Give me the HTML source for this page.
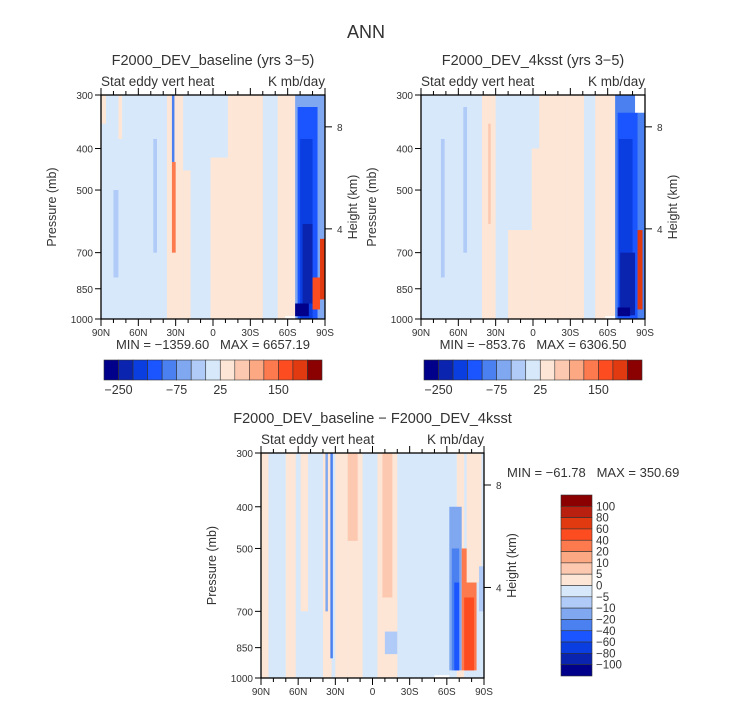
<!DOCTYPE html>
<html><head><meta charset="utf-8"><style>
body{margin:0;background:#fff}
svg{display:block}
text{font-family:"Liberation Sans",sans-serif;fill:#333;white-space:pre}
</style></head><body>
<svg id="s" width="733" height="702" viewBox="0 0 733 702" xmlns="http://www.w3.org/2000/svg">
<text x="366" y="38" font-size="18" text-anchor="middle" fill="#555">ANN</text>
</svg>
<script>
const palette=["#00008b","#0a24b0","#0a3ee0","#1a55ff","#4a80f0","#80a8f0","#b0cbf8","#d7e8fb","#fde6d5","#fcc8b0","#fca882","#fc7a4e","#fc4c20","#e23a10","#b92010","#8b0000"];
const latTicks=[90,60,30,0,-30,-60,-90];
const latLabels=["90N","60N","30N","0","30S","60S","90S"];
const presTicks=[300,400,500,700,850,1000];
const kmTicks=[8,4];
const kmPres=[356,616];
// bands: [latNorth, latSouth, pTop, pBottom, colorLevel]
const bands1=[[90,86,300,350,8],[76,73,300,380,8],[80,76,500,800,6],[48,45,380,700,6],[37,24,300,1000,8],[24,18,450,1000,8],[33,31,300,430,4],[33,30,430,700,11],[2,-40,300,1000,8],[5,-12,300,420,7],[-52,-66,300,1000,8],[-66,-90,300,1000,5],[-68,-84,320,1000,3],[-70,-80,380,1000,2],[-72,-80,600,920,1],[-66,-77,920,985,0],[-86,-90,650,900,13],[-80,-86,800,950,12],[-58,-66,985,1000,-1]];
const bands2=[[41,30,300,1000,8],[20,1,620,1000,8],[36,34,350,600,9],[74,71,380,800,6],[56,53,320,700,6],[1,-26,400,1000,8],[-5,-26,300,400,8],[-26,-41,300,1000,8],[-50,-66,300,1000,8],[-66,-90,300,1000,4],[-68,-84,330,1000,3],[-69,-80,380,980,2],[-70,-82,700,980,1],[-68,-78,940,985,0],[-84,-88,620,950,13],[-82,-90,300,330,-1],[-58,-66,985,1000,-1]];
const bands3=[[90,84,300,1000,8],[70,62,300,1000,8],[58,52,300,700,8],[40,33,300,1000,8],[30,20,300,1000,8],[20,8,300,1000,8],[20,12,300,480,9],[-4,-20,300,1000,8],[-8,-16,300,650,9],[-68,-74,300,1000,8],[34,32,300,900,4],[38,36,300,700,5],[-10,-20,780,880,6],[-62,-72,400,960,5],[-64,-70,500,960,4],[-66,-70,600,960,3],[-72,-84,500,960,11],[-74,-82,650,960,12],[-76,-88,300,600,8],[-86,-90,550,700,6],[-50,-62,985,1000,-1]];
const cbLabels1=["-250","-75","25","150"];
const cbLabelIdx=[1,5,8,12];
const vcbLabels=["100","80","60","40","20","10","5","0","-5","-10","-20","-40","-60","-80","-100"];

const svg=document.getElementById('s');
const NS="http://www.w3.org/2000/svg";
function mk(tag,attrs,parent){const e=document.createElementNS(NS,tag);for(const k in attrs)e.setAttribute(k,attrs[k]);(parent||svg).appendChild(e);return e;}
function txt(x,y,s,size,anchor,parent){const t=mk('text',{x:x,y:y,'font-size':size,'text-anchor':anchor||'middle'},parent);t.textContent=s;return t;}

function panel(name,L,T,W,H,bands,title,minmax,mmPos){
  const g=mk('g',{});
  
  
  const xs=lat=>L+(90-lat)/180*W;
  const ys=p=>T+(Math.log(p)-Math.log(300))/(Math.log(1000)-Math.log(300))*H;
  const bg=mk('rect',{x:L,y:T,width:W,height:H,fill:palette[7]},g);
  
  
  bands.forEach(b=>{
    const r=mk('rect',{x:xs(b[0]),y:ys(b[2]),width:xs(b[1])-xs(b[0]),height:ys(b[3])-ys(b[2]),fill:b[4]<0?'#fff':palette[b[4]]},g);
    
    
  });
  mk('rect',{x:L,y:T,width:W,height:H,fill:'none',stroke:'#000','stroke-width':1.3},g);
  for(let i=0;i<=18;i++){const x=L+i*W/18;const len=(i%3==0)?7:4;
    mk('line',{x1:x,y1:T+H,x2:x,y2:T+H+len,stroke:'#000'},g);
    mk('line',{x1:x,y1:T,x2:x,y2:T-len,stroke:'#000'},g);}
  latTicks.forEach((v,i)=>{const t=txt(xs(v),T+H+17,latLabels[i],10,'middle',g);
    });
  presTicks.forEach(p=>{mk('line',{x1:L,y1:ys(p),x2:L-6,y2:ys(p),stroke:'#000'},g);
    const t=txt(L-8,ys(p)+4,String(p),10,'end',g);
    });
  kmTicks.forEach((k,i)=>{const y=ys(kmPres[i]);mk('line',{x1:L+W,y1:y,x2:L+W+7,y2:y,stroke:'#000'},g);
    const t=txt(L+W+12,y+4,String(k),10,'start',g);
    });
  const yt=txt(0,0,'Pressure (mb)',12.5,'middle',g);
  yt.setAttribute('transform',`translate(${L-45},${T+H/2}) rotate(-90)`);
  
  const ht=txt(0,0,'Height (km)',12.5,'middle',g);
  ht.setAttribute('transform',`translate(${L+W+32},${T+H/2}) rotate(-90)`);
  
  const st=txt(L,T-9,'Stat eddy vert heat',13.5,'start',g);
  
  const un=txt(L+W,T-9,'K mb/day',13.5,'end',g);
  
  const tt=txt(L+W/2,T-30,title,14.5,'middle',g);
  
  const mm=txt(mmPos[0],mmPos[1],minmax,13,mmPos[2],g);
  
}

function hbar(name,L,T,W,H){
  const g=mk('g',{});
  
  
  const cols=[0,1,2,3,4,5,6,7,8,9,10,11,12,13,15];
  const bw=W/15;
  cols.forEach((c,i)=>{const r=mk('rect',{x:L+i*bw,y:T,width:bw,height:H,fill:palette[c],stroke:'#333','stroke-width':0.6},g);
    });
  cbLabels1.forEach((s,i)=>{const t=txt(L+cbLabelIdx[i]*bw,T+H+14,s.replace('-','\u2212'),12.5,'middle',g);
    });
}

function vbar(L,T,W,H){
  const g=mk('g',{});
  
  
  const bh=H/16;
  for(let i=0;i<16;i++){const r=mk('rect',{x:L,y:T+i*bh,width:W,height:bh,fill:palette[15-i],stroke:'#333','stroke-width':0.6},g);
    }
  vcbLabels.forEach((s,i)=>{const t=txt(L+W+4,T+(i+1)*bh+4,s.replace('-','\u2212'),11.5,'start',g);
    });
}

panel('baseline-panel',101,95,224,224,bands1,'F2000_DEV_baseline (yrs 3\u22125)','MIN = \u22121359.60   MAX = 6657.19',[213,349,'middle']);
panel('4ksst-panel',421,95,224,224,bands2,'F2000_DEV_4ksst (yrs 3\u22125)','MIN = \u2212853.76   MAX = 6306.50',[533,349,'middle']);
panel('diff-panel',261,453,223,225,bands3,'F2000_DEV_baseline \u2212 F2000_DEV_4ksst','MIN = \u221261.78   MAX = 350.69',[507,477,'start']);
hbar('baseline-colorbar',104,360,218,20);
hbar('4ksst-colorbar',424,360,218,20);
vbar(561,495,31,181);
</script>
</body></html>
